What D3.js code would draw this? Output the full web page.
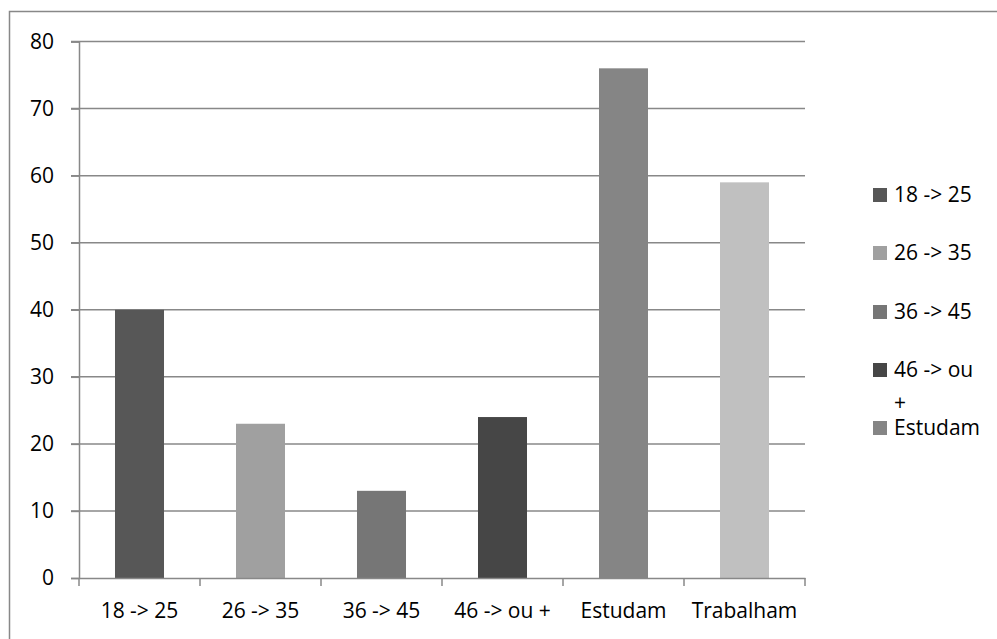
<!DOCTYPE html>
<html><head><meta charset="utf-8">
<script src="https://cdn.jsdelivr.net/npm/d3@7"></script>
<style>html,body{margin:0;padding:0;background:#fff;}svg{display:block;}</style>
</head><body>
<svg id="c" width="997" height="639"></svg>
<script>
const categories = ["18 -> 25", "26 -> 35", "36 -> 45", "46 -> ou +", "Estudam", "Trabalham"];
const values = [40, 23, 13, 24, 76, 59];
const colors = ["#575757", "#a0a0a0", "#767676", "#464646", "#858585", "#c0c0c0"];
const yTicks = [0, 10, 20, 30, 40, 50, 60, 70, 80];
const legendItems = ["18 -> 25", "26 -> 35", "36 -> 45", "46 -> ou\n+", "Estudam"];

(function () {
const svg = d3.select("#c");
const font = "'Open Sans', sans-serif";
const fs = 21;
svg.append("rect").attr("x", 9.5).attr("y", 11.5).attr("width", 1000).attr("height", 700)
  .attr("fill", "none").attr("stroke", "#888").attr("stroke-width", 1.5);

const pLeft = 79, pRight = 805, pTop = 41.5, pBottom = 578;
const x = d3.scaleBand().domain(categories).range([pLeft, pRight]).paddingInner(0.595).paddingOuter(0.2975);
const xb = d3.scaleBand().domain(categories).range([pLeft, pRight]);
const y = d3.scaleLinear().domain([0, 80]).range([pBottom, pTop]);

svg.append("g").selectAll("line").data(yTicks.filter(d => d > 0)).join("line")
  .attr("x1", pLeft - 8).attr("x2", pRight).attr("y1", d => y(d)).attr("y2", d => y(d))
  .attr("stroke", "#888").attr("stroke-width", 1.5);

svg.append("g").selectAll("rect").data(values).join("rect")
  .attr("x", (d, i) => x(categories[i])).attr("width", x.bandwidth())
  .attr("y", d => y(d)).attr("height", d => pBottom - y(d))
  .attr("fill", (d, i) => colors[i]);

const yAxis = svg.append("g").attr("transform", `translate(${pLeft},0)`)
  .call(d3.axisLeft(y).tickValues(yTicks).tickSize(8).tickPadding(17));
yAxis.select(".domain").attr("stroke", "#888").attr("stroke-width", 1.5);
yAxis.selectAll(".tick line").attr("stroke", "#888").attr("stroke-width", 1.5);
yAxis.selectAll("text").attr("font-family", font).attr("font-size", fs).attr("fill", "#000");

const xAxis = svg.append("g").attr("transform", `translate(0,${pBottom})`)
  .call(d3.axisBottom(xb).tickSize(0).tickPadding(25));
xAxis.select(".domain").attr("stroke", "#888").attr("stroke-width", 1.5);
xAxis.selectAll("text").attr("font-family", font).attr("font-size", fs).attr("fill", "#000");
svg.append("g").selectAll("line").data(d3.range(categories.length + 1)).join("line")
  .attr("x1", i => pLeft + i * xb.step()).attr("x2", i => pLeft + i * xb.step())
  .attr("y1", pBottom).attr("y2", pBottom + 8)
  .attr("stroke", "#888").attr("stroke-width", 1.5);

const legY = [195, 253, 312, 370, 428];
const lg = svg.append("g");
legendItems.forEach((t, i) => {
  lg.append("rect").attr("x", 873).attr("y", legY[i] - 7).attr("width", 14).attr("height", 14).attr("fill", colors[i]);
  t.split("\n").forEach((l, j) => {
    lg.append("text").attr("x", 894).attr("y", legY[i] + j * 33).attr("dy", "0.35em")
      .attr("font-family", font).attr("font-size", fs).text(l);
  });
});
})();
</script>
</body></html>
